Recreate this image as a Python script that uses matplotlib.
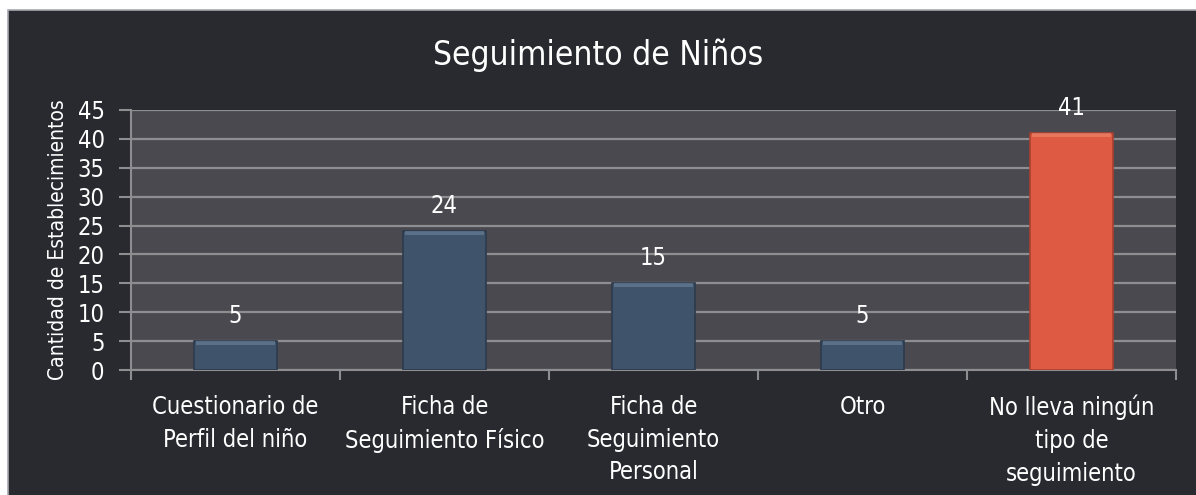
import matplotlib
matplotlib.use("Agg")
import matplotlib.pyplot as plt
from matplotlib.patches import Rectangle
import numpy as np

categories = ["Cuestionario de\nPerfil del niño", "Ficha de\nSeguimiento Físico",
              "Ficha de\nSeguimiento\nPersonal", "Otro",
              "No lleva ningún\ntipo de\nseguimiento"]
values = [5, 24, 15, 5, 41]
bar_colors = ["#3f536b", "#3f536b", "#3f536b", "#3f536b", "#de5a42"]
yticks = [0, 5, 10, 15, 20, 25, 30, 35, 40, 45]
title = "Seguimiento de Niños"
ylabel = "Cantidad de Establecimientos"

plt.rcParams['font.family'] = ['DejaVu Sans']
plt.rcParams['font.stretch'] = 'condensed'

W, H = 1196, 495
fig = plt.figure(figsize=(W/100, H/100), dpi=100)
fig.patch.set_facecolor("white")
bg = Rectangle((8/W, -0.01), 1.0, 1 - 10/H + 0.01, transform=fig.transFigure,
               facecolor="#292930", edgecolor="#a8a8b0", linewidth=1.2, zorder=-10)
fig.add_artist(bg)

ax = fig.add_axes([131/W, (H-370)/H, (1176-131)/W, (370-110)/H])
ax.set_zorder(2)
ax.set_facecolor("#4a4950")
x = np.arange(len(values))
bars = ax.bar(x, values, width=0.40, color=bar_colors, edgecolor=["#2c3a4c"]*4 + ["#a84030"],
              linewidth=1.2, zorder=3)
for b, c in zip(bars, bar_colors):
    hl = "#6f86a0" if c != "#de5a42" else "#f08a70"
    ax.bar(b.get_x() + b.get_width()/2, 0.6, bottom=b.get_height() - 0.6, width=b.get_width()*0.94,
           color=hl, alpha=0.6, linewidth=0, zorder=4)

for xi, v in zip(x, values):
    ax.text(xi, v + 2.3, str(v), ha="center", va="bottom", color="white", fontsize=17, zorder=5)

ax.set_xlim(-0.5, len(values) - 0.5)
ax.set_ylim(0, 45)
ax.set_yticks(yticks)
ax.yaxis.grid(True, color="#8e8e90", linewidth=1.6, zorder=1)
ax.set_axisbelow(True)
ax.set_xticks(x)
ax.set_xticklabels(categories, color="white", fontsize=17, linespacing=1.45)
ax.set_xticks(np.arange(len(values) + 1) - 0.5, minor=True)
ax.tick_params(axis="x", which="major", length=0, pad=18)
ax.tick_params(axis="x", which="minor", length=7, color="#8e8e90", width=1.5)
ax.tick_params(axis="y", length=9, color="#8e8e90", width=1.5, labelcolor="white", labelsize=17, pad=10)
for s in ["top", "right"]:
    ax.spines[s].set_visible(False)
for s in ["left", "bottom"]:
    ax.spines[s].set_color("#8e8e90")
    ax.spines[s].set_linewidth(1.5)

ax.set_ylabel(ylabel, color="white", fontsize=15, labelpad=7)
fig.text(0.5, 1 - 55/H, title, ha="center", va="center", color="white", fontsize=24)

fig.savefig("out.png", dpi=100, facecolor=fig.get_facecolor())
